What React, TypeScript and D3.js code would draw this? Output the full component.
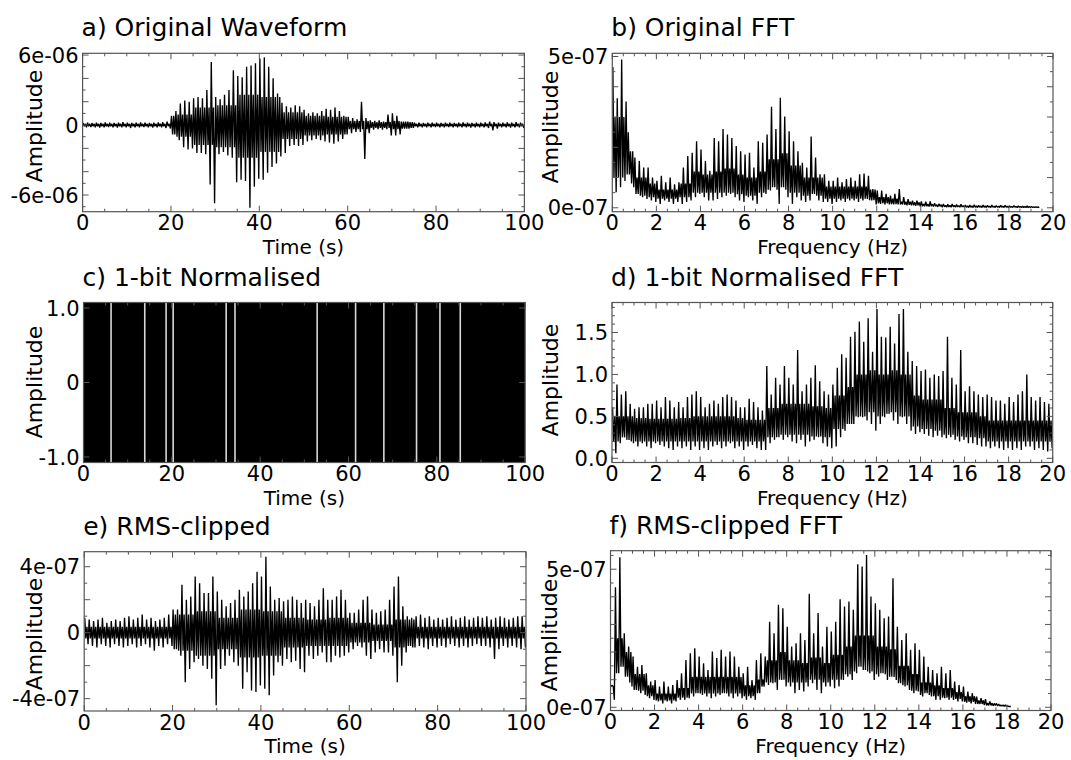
import React from "react";
import * as d3 from "d3";

// ---------------- DATA ----------------
const TIME_TICKS = [0, 20, 40, 60, 80, 100];
const FREQ_TICKS = [0, 2, 4, 6, 8, 10, 12, 14, 16, 18, 20];

// a) Original waveform: spike envelope (1 s bins) and dense core (5 s bins), units 1e-6
const WAVE_HI = [0.18,0.2,0.17,0.2,0.18,0.22,0.2,0.18,0.2,0.25,0.2,0.18,0.2,0.22,0.2,0.18,0.2,0.22,0.25,0.3,
  0.8,1.2,1.85,2.1,2.0,2.3,2.4,2.3,3.0,5.4, 2.4,2.2,2.6,3.0,4.7,4.2,4.1,5.0,5.1,5.3,
  5.7,5.8,5.0,4.0,2.7,1.9,1.6,1.5,1.7,1.6, 1.3,1.0,1.1,1.0,1.2,1.4,1.3,1.5,1.2,0.8,
  0.7,0.6,0.5,2.0,0.6,0.4,0.35,0.4,0.3,0.9, 1.0,0.8,0.3,0.3,0.25,0.2,0.2,0.18,0.2,0.2,
  0.2,0.18,0.2,0.2,0.18,0.2,0.22,0.2,0.18,0.2, 0.2,0.22,0.3,0.25,0.2,0.2,0.22,0.2,0.25,0.2];
const WAVE_LO = [-0.2,-0.18,-0.2,-0.22,-0.2,-0.18,-0.2,-0.22,-0.2,-0.2,-0.25,-0.2,-0.2,-0.18,-0.2,-0.22,-0.2,-0.2,-0.25,-0.3,
  -0.8,-1.3,-1.9,-2.1,-2.0,-2.4,-2.4,-2.5,-5.1,-6.7, -2.5,-2.3,-2.6,-2.8,-4.9,-4.7,-4.8,-7.1,-5.3,-4.6,
  -4.7,-4.1,-3.6,-3.3,-2.7,-2.4,-1.8,-1.7,-1.8,-1.7, -1.4,-1.3,-1.2,-1.3,-1.4,-1.5,-1.6,-1.4,-1.2,-0.8,
  -0.7,-0.6,-0.6,-2.9,-0.7,-0.4,-0.35,-0.4,-0.35,-0.9, -0.9,-0.8,-0.3,-0.3,-0.25,-0.2,-0.2,-0.2,-0.2,-0.18,
  -0.2,-0.2,-0.18,-0.2,-0.2,-0.2,-0.2,-0.22,-0.2,-0.2, -0.2,-0.25,-0.45,-0.3,-0.2,-0.2,-0.22,-0.2,-0.2,-0.25];
const WAVE_CORE_HI = [0.1,0.1,0.1,0.1, 0.9,1.5,1.7,2.6,2.4,1.1, 0.8,0.7,0.35,0.25,0.35, 0.1,0.1,0.1,0.1,0.1];
const WAVE_CORE_LO = [-0.1,-0.1,-0.1,-0.1, -1.0,-1.7,-1.9,-2.8,-2.3,-1.2, -0.9,-0.8,-0.35,-0.25,-0.35, -0.1,-0.1,-0.1,-0.1,-0.1];

// b) Original FFT: spike envelope (0.2 Hz bins) and dense core (0.5 Hz bins), units 1e-7
const FFT_HI = [4.65,3.62,4.9,3.51,1.87, 1.66,1.55,1.33,1.33,1.0, 0.89,1.06,0.84,1.0,0.78, 0.84,1.33,1.71,1.82,2.2,
  1.93,1.55,1.22,2.31,2.2, 2.6,2.42,2.31,2.04,1.87, 1.76,1.82,1.33,2.2,2.15, 2.42,3.34,2.6,3.64,3.02,
  2.53,2.2,1.87,1.49,1.33, 2.36,1.66,1.11,1.11,0.89, 0.89,1.0,0.84,0.95,1.0, 0.89,1.11,1.13,1.06,0.62,
  0.57,0.57,0.46,0.4,0.46, 0.62,0.35,0.29,0.24,0.24, 0.21,0.2,0.21,0.15,0.13, 0.13,0.12,0.13,0.11,0.12,
  0.09,0.09,0.1,0.08,0.09, 0.08,0.09,0.07,0.08,0.08, 0.06,0.07,0.06,0.05,0.06, 0.04,0.03];
const FFT_LO = [0.51,0.68,0.89,1.1,0.68, 0.46,0.35,0.29,0.24,0.19, 0.13,0.24,0.19,0.13,0.19, 0.13,0.19,0.24,0.35,0.46,
  0.35,0.24,0.24,0.29,0.35, 0.4,0.46,0.35,0.24,0.19, 0.35,0.24,0.13,0.35,0.46, 0.57,0.68,0.13,0.68,0.35,
  0.13,0.35,0.24,0.19,0.24, 0.46,0.24,0.19,0.19,0.13, 0.19,0.24,0.19,0.24,0.24, 0.19,0.24,0.29,0.24,0.11,
  0.13,0.11,0.11,0.11,0.11, 0.11,0.08,0.08,0.07,0.05, 0.05,0.04,0.04,0.03,0.02, 0.02,0.02,0.02,0.02,0.02,
  0.01,0.01,0.01,0.01,0.01, 0.01,0.01,0.01,0.01,0.01, 0.01,0.01,0.01,0.01,0.01, 0.01,0.0];
const FFT_CORE_HI = [3.0,2.5,1.0,0.8,0.6,0.6,0.8,1.2,1.1,1.2, 1.3,1.1,1.0,1.2,1.6,1.8,1.4,1.0,1.0,0.7,
  0.7,0.7,0.7,0.6,0.35,0.3,0.2,0.18,0.12,0.1, 0.08,0.07,0.06,0.06,0.05,0.05,0.04,0.04,0.03];
const FFT_CORE_LO = [1.0,0.8,0.4,0.35,0.3,0.3,0.35,0.5,0.5,0.5, 0.5,0.45,0.4,0.5,0.6,0.6,0.5,0.4,0.4,0.3,
  0.3,0.3,0.3,0.25,0.15,0.12,0.1,0.08,0.05,0.05, 0.03,0.03,0.02,0.02,0.02,0.02,0.02,0.01,0.01];

// c) 1-bit normalised: times (s) where the sign stays constant (white gaps)
const BIT_LEVELS = [-1, 1];
const BIT_GAPS = [6.24, 13.87, 18.7, 20.3, 32.3, 34.3, 52.9, 61.6, 68.0, 75.4, 80.7, 85.3];

// d) 1-bit FFT: spike envelope (0.2 Hz bins) and dense core (0.5 Hz bins)
const BIT_FFT_HI = [0.61,0.88,0.76,0.8,0.65, 0.59,0.61,0.61,0.65,0.65, 0.69,0.61,0.73,0.69,0.61, 0.67,0.61,0.73,0.76,0.8,
  0.73,0.61,0.65,0.69,0.65, 0.73,0.76,0.73,0.69,0.61, 0.61,0.71,0.67,0.61,0.57, 1.1,0.76,0.96,0.88,1.1,
  0.96,0.88,1.29,0.8,0.88, 0.96,1.11,0.92,0.8,0.76, 0.88,1.08,1.24,1.2,1.45, 1.51,1.63,1.39,1.67,1.27,
  1.78,1.45,1.44,1.57,1.37, 1.72,1.78,1.27,1.16,1.1, 1.04,1.06,0.96,1.0,0.98, 1.04,1.45,0.96,0.88,1.29,
  0.8,0.86,0.8,0.76,0.73, 0.76,0.73,0.69,0.69,0.65, 0.73,0.67,0.76,0.8,1.0, 0.73,0.69,0.73,0.67,0.65];
const BIT_FFT_LO = [0.06,0.18,0.25,0.22,0.18, 0.14,0.18,0.14,0.12,0.18, 0.16,0.14,0.12,0.1,0.14, 0.12,0.14,0.1,0.14,0.1,
  0.12,0.1,0.14,0.16,0.12, 0.14,0.18,0.12,0.14,0.1, 0.14,0.16,0.12,0.1,0.1, 0.18,0.22,0.25,0.22,0.25,
  0.2,0.18,0.22,0.14,0.2, 0.22,0.25,0.18,0.14,0.12, 0.14,0.25,0.33,0.41,0.41, 0.49,0.49,0.45,0.41,0.33,
  0.41,0.49,0.53,0.45,0.41, 0.49,0.41,0.33,0.29,0.31, 0.29,0.27,0.25,0.27,0.25, 0.24,0.25,0.22,0.2,0.22,
  0.18,0.18,0.16,0.14,0.14, 0.12,0.14,0.12,0.1,0.12, 0.1,0.12,0.1,0.14,0.14, 0.1,0.12,0.1,0.08,0.12];
const BIT_FFT_CORE_HI = [0.5,0.5,0.48,0.47,0.47,0.47,0.48,0.5,0.5,0.5, 0.5,0.48,0.46,0.46, 0.6,0.65,0.65,0.65,0.62,0.6,
  0.75,0.85,1.0,1.05,1.0,1.05,1.0, 0.75,0.7,0.7, 0.6,0.55,0.55,0.5, 0.45,0.45,0.45,0.45,0.45,0.45];
const BIT_FFT_CORE_LO = [0.2,0.2,0.2,0.2,0.2,0.2,0.2,0.2,0.2,0.2, 0.2,0.2,0.2,0.2, 0.25,0.28,0.28,0.28,0.26,0.25,
  0.35,0.4,0.5,0.55,0.5,0.55,0.5, 0.38,0.35,0.33, 0.28,0.26,0.25,0.24, 0.2,0.2,0.2,0.2,0.2,0.2];

// e) RMS-clipped waveform: spike envelope (1 s bins) and dense core (5 s bins), units 1e-7
const RMS_HI = [0.9,0.8,0.7,0.8,0.9,0.6,0.7,0.8,0.7,0.9,1.0,0.8,0.9,1.1,0.8,0.9,0.7,0.8,0.9,1.1,
  1.4,1.4,2.9,2.0,2.2,3.4,3.0,2.4,2.4,3.4, 2.5,2.0,1.6,1.8,2.0,2.6,2.2,2.5,3.0,3.7,
  3.4,4.6,2.8,2.0,2.1,1.9,2.0,2.2,2.0,1.8, 2.0,1.8,1.6,2.0,2.7,2.0,2.0,2.2,2.6,2.0,
  1.2,1.2,1.4,2.0,2.2,1.4,1.2,1.3,1.4,2.0, 2.8,3.4,1.6,1.0,0.9,1.0,1.1,0.9,1.0,0.8,
  0.9,0.8,0.9,1.0,0.8,0.9,1.0,0.8,0.9,1.0, 0.9,1.0,0.8,0.9,1.0,0.9,0.8,0.9,1.0,1.0];
const RMS_LO = [-0.7,-0.8,-0.9,-0.7,-0.8,-0.9,-0.7,-0.8,-0.9,-0.8,-0.7,-0.9,-0.8,-0.7,-0.9,-1.1,-0.8,-0.9,-0.7,-0.8,
  -1.0,-1.4,-3.0,-2.2,-1.8,-1.6,-2.0,-2.2,-2.8,-4.4, -2.2,-2.0,-1.4,-1.8,-2.0,-3.4,-2.4,-3.5,-3.6,-3.2,
  -3.4,-3.8,-2.6,-1.8,-2.0,-1.6,-1.8,-1.7,-2.2,-2.4, -1.4,-1.6,-1.4,-1.2,-1.8,-1.8,-1.4,-1.5,-1.4,-1.2,
  -1.0,-0.8,-0.9,-1.4,-1.6,-1.2,-1.0,-1.2,-1.2,-1.4, -3.0,-2.0,-1.2,-0.8,-0.9,-0.8,-0.9,-1.0,-0.8,-0.9,
  -0.8,-0.9,-0.7,-0.8,-0.9,-0.8,-0.9,-0.8,-0.7,-0.8, -0.8,-0.9,-1.6,-1.0,-0.8,-0.9,-0.8,-0.9,-1.0,-0.9];
const RMS_CORE_HI = [0.35,0.35,0.35,0.35, 1.1,1.3,0.9,1.4,1.3,0.9, 0.8,0.9,0.6,0.5,0.8, 0.35,0.35,0.35,0.35,0.35];
const RMS_CORE_LO = [-0.35,-0.35,-0.35,-0.35, -1.1,-1.4,-1.0,-1.5,-1.4,-0.9, -0.8,-0.8,-0.6,-0.5,-0.9, -0.35,-0.35,-0.35,-0.35,-0.35];

// f) RMS-clipped FFT: spike envelope (0.2 Hz bins) and dense core (0.5 Hz bins), units 1e-7
const RMS_FFT_HI = [0.75,4.35,5.43,2.68,2.2, 1.84,1.47,1.53,1.23,0.93, 0.99,0.75,0.93,0.75,0.81, 0.99,1.23,1.71,1.96,2.14,
  1.84,1.59,1.35,2.02,1.78, 2.08,1.84,2.02,1.84,1.47, 1.23,1.47,0.99,1.71,1.96, 1.84,3.1,2.68,3.71,3.59,
  2.92,2.2,2.32,2.68,2.44, 4.11,2.68,3.41,2.2,2.92, 2.74,3.1,3.91,3.65,3.83, 3.53,5.18,5.1,5.51,4.01,
  3.77,3.53,3.22,3.29,4.67, 2.92,2.44,2.68,2.08,2.32, 2.08,1.84,1.47,1.35,1.23, 1.47,1.23,1.35,0.93,0.81,
  0.75,0.57,0.51,0.39,0.33, 0.3,0.21,0.14,0.12,0.08, 0.05];
const RMS_FFT_LO = [0.27,1.23,1.47,1.11,0.75, 0.63,0.51,0.45,0.33,0.27, 0.21,0.14,0.21,0.14,0.21, 0.27,0.27,0.33,0.39,0.51,
  0.45,0.39,0.33,0.39,0.45, 0.51,0.39,0.33,0.39,0.33, 0.27,0.33,0.27,0.51,0.75, 0.81,0.87,0.63,0.99,0.75,
  0.75,0.51,0.63,0.57,0.75, 0.87,0.63,0.51,0.75,0.75, 0.69,0.75,0.99,1.11,0.99, 1.23,1.47,1.35,1.23,0.99,
  1.11,1.23,0.99,1.11,0.99, 0.87,0.75,0.63,0.51,0.57, 0.39,0.51,0.39,0.27,0.27, 0.33,0.27,0.27,0.21,0.21,
  0.17,0.14,0.12,0.12,0.08, 0.07,0.06,0.05,0.05,0.04, 0.03];
const RMS_FFT_CORE_HI = [2.5,2.0,1.2,0.8,0.5,0.5,0.7,1.1,1.1,1.1, 1.1,1.1,0.8,1.0,1.7,2.0,1.7,1.6,1.8,1.6,
  1.9,2.2,2.6,2.6,2.2,2.1,1.5,1.2,0.9,0.8, 0.7,0.55,0.4,0.25,0.15,0.08,0.03];
const RMS_FFT_CORE_LO = [0.8,0.9,0.6,0.4,0.25,0.25,0.35,0.5,0.5,0.5, 0.5,0.5,0.4,0.5,0.9,1.0,0.9,0.9,1.0,0.9,
  1.0,1.2,1.3,1.3,1.2,1.1,0.8,0.6,0.45,0.4, 0.35,0.3,0.2,0.12,0.07,0.04,0.02];

// ---------------- DRAWING ----------------
const FONT = "'DejaVu Sans', sans-serif";
const FRAME = "#555";

type Box = { left: number; top: number; right: number; bottom: number };

function range(a: number, b: number, s: number) {
  const out: number[] = [];
  for (let v = a; v <= b + 1e-9; v += s) out.push(+v.toFixed(6));
  return out;
}

// For every fine bin: peak up, core low, core high, trough down.
function tracePoints(
  hi: number[], lo: number[], step: number, coreHi: number[], coreLo: number[], coreStep: number
): [number, number][] {
  const pts: [number, number][] = [];
  hi.forEach((h, i) => {
    const c = Math.min(coreHi.length - 1, Math.floor((i * step + 1e-9) / coreStep));
    const ch = Math.min(coreHi[c], h);
    const cl = Math.max(coreLo[c], lo[i]);
    pts.push([(i + 0.125) * step, h]);
    pts.push([(i + 0.375) * step, cl]);
    pts.push([(i + 0.625) * step, ch]);
    pts.push([(i + 0.875) * step, lo[i]]);
  });
  return pts;
}

interface PanelProps {
  id: string;
  box: Box;
  xDomain: [number, number];
  yDomain: [number, number];
  xTicks: number[];
  xMinor: number[];
  yMajor: number[];
  yMinor: number[];
  yLabels: { v: number; t: string }[];
  title: string;
  xLabel: string;
  yLabelX: number;
  yLabelY: number;
  children: (xs: d3.ScaleLinear<number, number>, ys: d3.ScaleLinear<number, number>) => React.ReactNode;
}

function Panel(p: PanelProps) {
  const { box } = p;
  const xs = d3.scaleLinear().domain(p.xDomain).range([box.left, box.right]);
  const ys = d3.scaleLinear().domain(p.yDomain).range([box.bottom, box.top]);
  const w = box.right - box.left;
  const h = box.bottom - box.top;
  const MJ = 6, MN = 3;
  return (
    <g>
      <defs>
        <clipPath id={"clip-" + p.id}>
          <rect x={box.left} y={box.top} width={w} height={h} />
        </clipPath>
      </defs>
      <g clipPath={`url(#clip-${p.id})`}>{p.children(xs, ys)}</g>
      <g stroke={FRAME} strokeWidth={1}>
        {p.xTicks.map((v) => (
          <g key={"xt" + v}>
            <line x1={xs(v)} x2={xs(v)} y1={box.bottom} y2={box.bottom - MJ} />
            <line x1={xs(v)} x2={xs(v)} y1={box.top} y2={box.top + MJ} />
          </g>
        ))}
        {p.xMinor.map((v) => (
          <g key={"xm" + v}>
            <line x1={xs(v)} x2={xs(v)} y1={box.bottom} y2={box.bottom - MN} />
            <line x1={xs(v)} x2={xs(v)} y1={box.top} y2={box.top + MN} />
          </g>
        ))}
        {p.yMajor.map((v) => (
          <g key={"yt" + v}>
            <line x1={box.left} x2={box.left + MJ} y1={ys(v)} y2={ys(v)} />
            <line x1={box.right} x2={box.right - MJ} y1={ys(v)} y2={ys(v)} />
          </g>
        ))}
        {p.yMinor.map((v) => (
          <g key={"ym" + v}>
            <line x1={box.left} x2={box.left + MN} y1={ys(v)} y2={ys(v)} />
            <line x1={box.right} x2={box.right - MN} y1={ys(v)} y2={ys(v)} />
          </g>
        ))}
      </g>
      <rect x={box.left} y={box.top} width={w} height={h} fill="none" stroke={FRAME} strokeWidth={1.2} />
      <g fontFamily={FONT} fill="#000">
        {p.xTicks.map((v) => (
          <text key={"xl" + v} x={xs(v)} y={box.bottom + 18.5} fontSize={21} textAnchor="middle">
            {String(v)}
          </text>
        ))}
        {p.yLabels.map((l) => (
          <text key={"yl" + l.v} x={box.left - 4} y={ys(l.v)} dy="0.36em" fontSize={21} textAnchor="end">
            {l.t}
          </text>
        ))}
        <text x={box.left - 1} y={box.top - 17} fontSize={25}>
          {p.title}
        </text>
        <text x={(box.left + box.right) / 2} y={box.bottom + 42} fontSize={20} textAnchor="middle">
          {p.xLabel}
        </text>
        <text
          transform={`translate(${p.yLabelX},${p.yLabelY}) rotate(-90)`}
          fontSize={22}
          textAnchor="middle"
        >
          Amplitude
        </text>
      </g>
    </g>
  );
}

function Trace({
  hi, lo, step, coreHi, coreLo, coreStep, xs, ys,
}: {
  hi: number[]; lo: number[]; step: number; coreHi: number[]; coreLo: number[]; coreStep: number; xs: any; ys: any;
}) {
  const line = d3
    .line<[number, number]>()
    .x((d) => xs(d[0]))
    .y((d) => ys(d[1]));
  const pts = tracePoints(hi, lo, step, coreHi, coreLo, coreStep);
  return <path d={line(pts) || ""} fill="none" stroke="#000" strokeWidth={1.35} strokeLinejoin="bevel" />;
}

const timeMinor = range(0, 100, 5).filter((v) => v % 20 !== 0);
const freqMinor = range(0, 20, 0.5).filter((v) => v % 2 !== 0);

export default function App() {
  const boxA: Box = { left: 82.6, top: 53.3, right: 524.4, bottom: 211.7 };
  const boxB: Box = { left: 612.3, top: 53.3, right: 1053, bottom: 211.7 };
  const boxC: Box = { left: 83.5, top: 302.5, right: 525.2, bottom: 462.5 };
  const boxD: Box = { left: 612, top: 302.5, right: 1052.7, bottom: 462.5 };
  const boxE: Box = { left: 84.2, top: 551.7, right: 526, bottom: 711 };
  const boxF: Box = { left: 610.5, top: 550.7, right: 1051, bottom: 710.5 };

  return (
    <svg
      width={1071}
      height={760}
      style={{ position: "absolute", left: 0, top: 0, background: "#fff", display: "block" }}
    >
      <rect x={0} y={0} width={1071} height={760} fill="#fff" />
      <Panel
        id="a"
        box={boxA}
        xDomain={[0, 100]}
        yDomain={[-7.43, 6.15]}
        xTicks={TIME_TICKS}
        xMinor={timeMinor}
        yMajor={[-6, -4, -2, 0, 2, 4, 6]}
        yMinor={[-7, -5, -3, -1, 1, 3, 5]}
        yLabels={[
          { v: 6, t: "6e-06" },
          { v: 0, t: "0" },
          { v: -6, t: "-6e-06" },
        ]}
        title="a) Original Waveform"
        xLabel="Time (s)"
        yLabelX={42}
        yLabelY={126}
      >
        {(xs, ys) => (
          <Trace hi={WAVE_HI} lo={WAVE_LO} step={1} coreHi={WAVE_CORE_HI} coreLo={WAVE_CORE_LO} coreStep={5} xs={xs} ys={ys} />
        )}
      </Panel>
      <Panel
        id="b"
        box={boxB}
        xDomain={[0, 20]}
        yDomain={[-0.129, 5.106]}
        xTicks={FREQ_TICKS}
        xMinor={freqMinor}
        yMajor={[0, 1, 2, 3, 4, 5]}
        yMinor={[0.5, 1.5, 2.5, 3.5, 4.5]}
        yLabels={[
          { v: 5, t: "5e-07" },
          { v: 0, t: "0e-07" },
        ]}
        title="b) Original FFT"
        xLabel="Frequency (Hz)"
        yLabelX={558}
        yLabelY={127}
      >
        {(xs, ys) => (
          <Trace hi={FFT_HI} lo={FFT_LO} step={0.2} coreHi={FFT_CORE_HI} coreLo={FFT_CORE_LO} coreStep={0.5} xs={xs} ys={ys} />
        )}
      </Panel>
      <Panel
        id="c"
        box={boxC}
        xDomain={[0, 100]}
        yDomain={[-1.074, 1.074]}
        xTicks={TIME_TICKS}
        xMinor={timeMinor}
        yMajor={[-1, 0, 1]}
        yMinor={[]}
        yLabels={[
          { v: 1, t: "1.0" },
          { v: 0, t: "0" },
          { v: -1, t: "-1.0" },
        ]}
        title="c) 1-bit Normalised"
        xLabel="Time (s)"
        yLabelX={42}
        yLabelY={382}
      >
        {(xs, ys) => (
          <g>
            <rect
              x={xs(0)}
              y={ys(BIT_LEVELS[1] * 1.074)}
              width={xs(100) - xs(0)}
              height={ys(BIT_LEVELS[0] * 1.074) - ys(BIT_LEVELS[1] * 1.074)}
              fill="#000"
            />
            {BIT_GAPS.map((t) => (
              <line
                key={t}
                x1={xs(t)}
                x2={xs(t)}
                y1={ys(BIT_LEVELS[1] * 1.074)}
                y2={ys(BIT_LEVELS[0] * 1.074)}
                stroke="#d8d8d8"
                strokeWidth={1.6}
              />
            ))}
          </g>
        )}
      </Panel>
      <Panel
        id="d"
        box={boxD}
        xDomain={[0, 20]}
        yDomain={[-0.05, 1.858]}
        xTicks={FREQ_TICKS}
        xMinor={freqMinor}
        yMajor={[0, 0.5, 1.0, 1.5]}
        yMinor={range(0.1, 1.8, 0.1).filter((v) => Math.abs(v * 2 - Math.round(v * 2)) > 1e-6)}
        yLabels={[
          { v: 1.5, t: "1.5" },
          { v: 1.0, t: "1.0" },
          { v: 0.5, t: "0.5" },
          { v: 0, t: "0.0" },
        ]}
        title="d) 1-bit Normalised FFT"
        xLabel="Frequency (Hz)"
        yLabelX={558}
        yLabelY={380}
      >
        {(xs, ys) => (
          <Trace hi={BIT_FFT_HI} lo={BIT_FFT_LO} step={0.2} coreHi={BIT_FFT_CORE_HI} coreLo={BIT_FFT_CORE_LO} coreStep={0.5} xs={xs} ys={ys} />
        )}
      </Panel>
      <Panel
        id="e"
        box={boxE}
        xDomain={[0, 100]}
        yDomain={[-4.75, 4.91]}
        xTicks={TIME_TICKS}
        xMinor={timeMinor}
        yMajor={[-4, -2, 0, 2, 4]}
        yMinor={[-3, -1, 1, 3]}
        yLabels={[
          { v: 4, t: "4e-07" },
          { v: 0, t: "0" },
          { v: -4, t: "-4e-07" },
        ]}
        title="e) RMS-clipped"
        xLabel="Time (s)"
        yLabelX={42}
        yLabelY={634}
      >
        {(xs, ys) => (
          <Trace hi={RMS_HI} lo={RMS_LO} step={1} coreHi={RMS_CORE_HI} coreLo={RMS_CORE_LO} coreStep={5} xs={xs} ys={ys} />
        )}
      </Panel>
      <Panel
        id="f"
        box={boxF}
        xDomain={[0, 20]}
        yDomain={[-0.116, 5.67]}
        xTicks={FREQ_TICKS}
        xMinor={freqMinor}
        yMajor={[0, 1, 2, 3, 4, 5]}
        yMinor={[0.5, 1.5, 2.5, 3.5, 4.5, 5.5]}
        yLabels={[
          { v: 5, t: "5e-07" },
          { v: 0, t: "0e-07" },
        ]}
        title="f) RMS-clipped FFT"
        xLabel="Frequency (Hz)"
        yLabelX={557}
        yLabelY={635}
      >
        {(xs, ys) => (
          <Trace hi={RMS_FFT_HI} lo={RMS_FFT_LO} step={0.2} coreHi={RMS_FFT_CORE_HI} coreLo={RMS_FFT_CORE_LO} coreStep={0.5} xs={xs} ys={ys} />
        )}
      </Panel>
    </svg>
  );
}
